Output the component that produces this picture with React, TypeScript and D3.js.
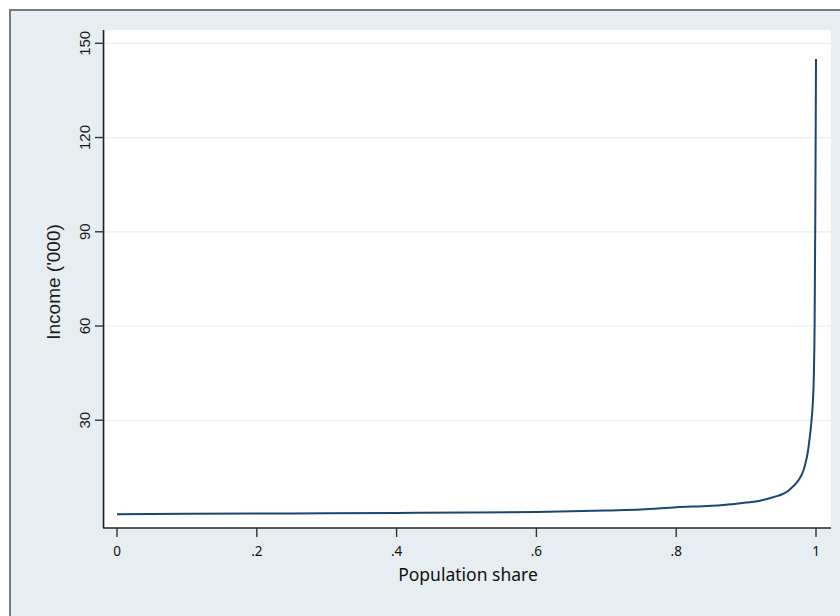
import React from "react";
import * as d3 from "d3";

const shares = [0, 0.1, 0.2, 0.3, 0.4, 0.5, 0.6, 0.65, 0.7, 0.75, 0.8, 0.85, 0.88, 0.9, 0.92, 0.94, 0.95, 0.96, 0.967, 0.973, 0.978, 0.982, 0.985, 0.988, 0.991, 0.993, 0.995, 0.997, 0.998, 0.999, 1];
const incomes = [0.1, 0.2, 0.3, 0.4, 0.5, 0.6, 0.8, 1.0, 1.3, 1.6, 2.3, 2.8, 3.3, 3.8, 4.4, 5.6, 6.3, 7.5, 8.9, 10.3, 12.0, 14.0, 16.4, 19.5, 24.5, 28.5, 34, 45, 60, 95, 145];
const xTicks = [0, 0.2, 0.4, 0.6, 0.8, 1];
const xTickLabels = ["0", ".2", ".4", ".6", ".8", "1"];
const yTicks = [30, 60, 90, 120, 150];
const yTickLabels = ["30", "60", "90", "120", "150"];
const xTitle = "Population share";
const yTitle = "Income ('000)";

const W = 840;
const H = 616;
const plotLeft = 105;
const plotRight = 831;
const plotTop = 30;
const plotBottom = 528;

export default function App() {
  const x = d3.scaleLinear().domain([0, 1]).range([plotLeft + 12, plotRight - 15]);
  const y = d3.scaleLinear().domain([0, 150]).range([plotBottom - 13.5, plotTop + 13.3]);
  const data = shares.map((s, i) => [s, incomes[i]] as [number, number]);
  const line = d3
    .line<[number, number]>()
    .x((d) => x(d[0]))
    .y((d) => y(d[1]))
    .curve(d3.curveMonotoneX);

  return (
    <svg
      width={W}
      height={H}
      style={{ position: "absolute", left: 0, top: 0, background: "#ffffff" }}
    >
      <rect x={10} y={10} width={W + 20} height={H + 20} fill="#e6eef1" stroke="#7a7a7a" strokeWidth={2} />
      <rect x={plotLeft} y={plotTop} width={plotRight - plotLeft} height={plotBottom - plotTop} fill="#ffffff" />
      {yTicks.map((t) => (
        <line key={"g" + t} x1={plotLeft} x2={plotRight} y1={y(t)} y2={y(t)} stroke="#e6eef1" strokeWidth={1.2} />
      ))}
      <path d={line(data) || ""} fill="none" stroke="#1a476f" strokeWidth={2} strokeLinejoin="round" />
      <line x1={plotLeft - 1.5} x2={plotLeft - 1.5} y1={plotTop} y2={plotBottom} stroke="#222" strokeWidth={1.6} />
      <line x1={plotLeft - 2} x2={plotRight} y1={plotBottom} y2={plotBottom} stroke="#222" strokeWidth={1.6} />
      {yTicks.map((t, i) => (
        <g key={"yt" + t}>
          <line x1={plotLeft - 10} x2={plotLeft - 1.5} y1={y(t)} y2={y(t)} stroke="#333" strokeWidth={1.4} />
          <text
            transform={`translate(${plotLeft - 15.5},${y(t)}) rotate(-90)`}
            textAnchor="middle"
            fontFamily="'Liberation Sans', Arial, sans-serif"
            fontSize={15}
            fill="#1a1a1a"
          >
            {yTickLabels[i]}
          </text>
        </g>
      ))}
      {xTicks.map((t, i) => (
        <g key={"xt" + t}>
          <line x1={x(t)} x2={x(t)} y1={plotBottom} y2={plotBottom + 9} stroke="#333" strokeWidth={1.4} />
          <text
            x={x(t)}
            y={plotBottom + 28}
            textAnchor="middle"
            fontFamily="'Noto Sans', sans-serif"
            fontSize={13.5}
            fill="#111"
          >
            {xTickLabels[i]}
          </text>
        </g>
      ))}
      <text
        x={(plotLeft + plotRight) / 2}
        y={581}
        textAnchor="middle"
        fontFamily="'Noto Sans', sans-serif"
        fontSize={17.5}
        fill="#111"
      >
        {xTitle}
      </text>
      <text
        transform={`translate(60,${(plotTop + plotBottom) / 2 + 3}) rotate(-90)`}
        textAnchor="middle"
        fontFamily="'Liberation Sans', Arial, sans-serif"
        fontSize={19}
        fill="#1a1a1a"
      >
        {yTitle}
      </text>
    </svg>
  );
}
